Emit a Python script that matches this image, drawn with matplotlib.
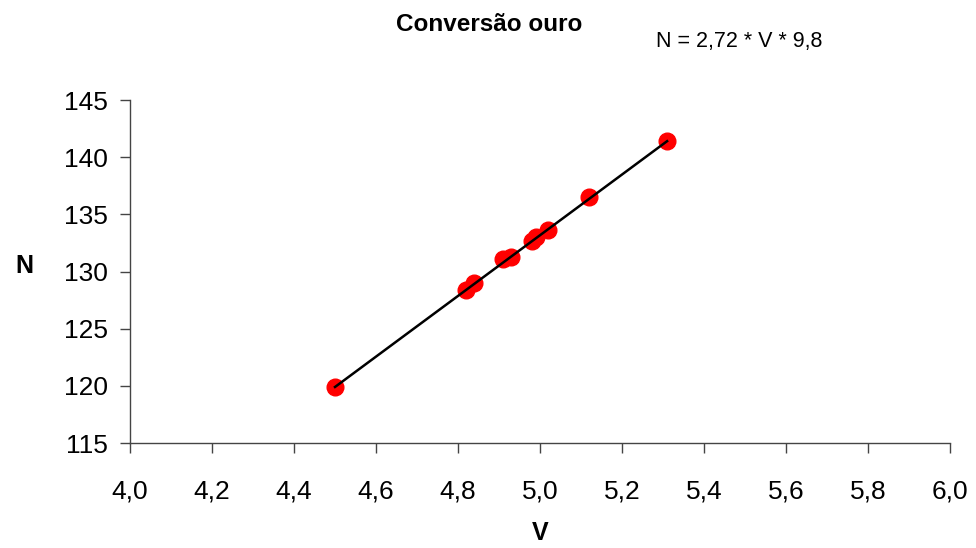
import matplotlib
matplotlib.use("Agg")
import matplotlib.pyplot as plt

# measured points (V, N)
v_vals = [4.50, 4.82, 4.84, 4.91, 4.93, 4.98, 4.99, 5.02, 5.12, 5.31]
n_vals = [119.9, 128.4, 129.0, 131.1, 131.3, 132.7, 133.0, 133.6, 136.5, 141.4]
x_ticks = [4.0, 4.2, 4.4, 4.6, 4.8, 5.0, 5.2, 5.4, 5.6, 5.8, 6.0]
y_ticks = [115, 120, 125, 130, 135, 140, 145]

plt.rcParams["font.family"] = ["Liberation Sans", "DejaVu Sans"]

fig = plt.figure(figsize=(9.76, 5.48), dpi=100)
ax = fig.add_axes([130 / 976, 1 - 443 / 548, 820 / 976, 343 / 548])

ax.plot(v_vals, n_vals, "o", color="red", markersize=12, zorder=2)
ax.plot([v_vals[0], v_vals[-1]], [n_vals[0], n_vals[-1]], color="black", linewidth=1.8, zorder=3)

ax.set_xlim(4.0, 6.0)
ax.set_ylim(115, 145)
ax.set_xticks(x_ticks)
ax.set_yticks(y_ticks)
ax.set_xticklabels([f"{t:.1f}".replace(".", ",") for t in x_ticks])
ax.set_yticklabels([str(t) for t in y_ticks])
ax.tick_params(axis="both", labelsize=19, length=7, width=1, color="#444444", direction="out")
ax.tick_params(axis="x", pad=19)
ax.tick_params(axis="y", pad=9)
ax.spines["top"].set_visible(False)
ax.spines["right"].set_visible(False)
for s in ("left", "bottom"):
    ax.spines[s].set_color("#444444")
    ax.spines[s].set_linewidth(1)

fig.text(489 / 976, 1 - 31 / 548, "Conversão ouro", ha="center", va="baseline",
         fontsize=17.5, fontweight="bold")
fig.text(656 / 976, 1 - 42 / 548, "N = 2,72 * V * 9,8", ha="left", va="center", fontsize=15.5)
fig.text(24 / 976, 1 - 266 / 548, "N", ha="center", va="center", fontsize=18, fontweight="bold")
fig.text(540 / 976, 1 - 533 / 548, "V", ha="center", va="center", fontsize=18, fontweight="bold")

fig.savefig("out.png", dpi=100)
